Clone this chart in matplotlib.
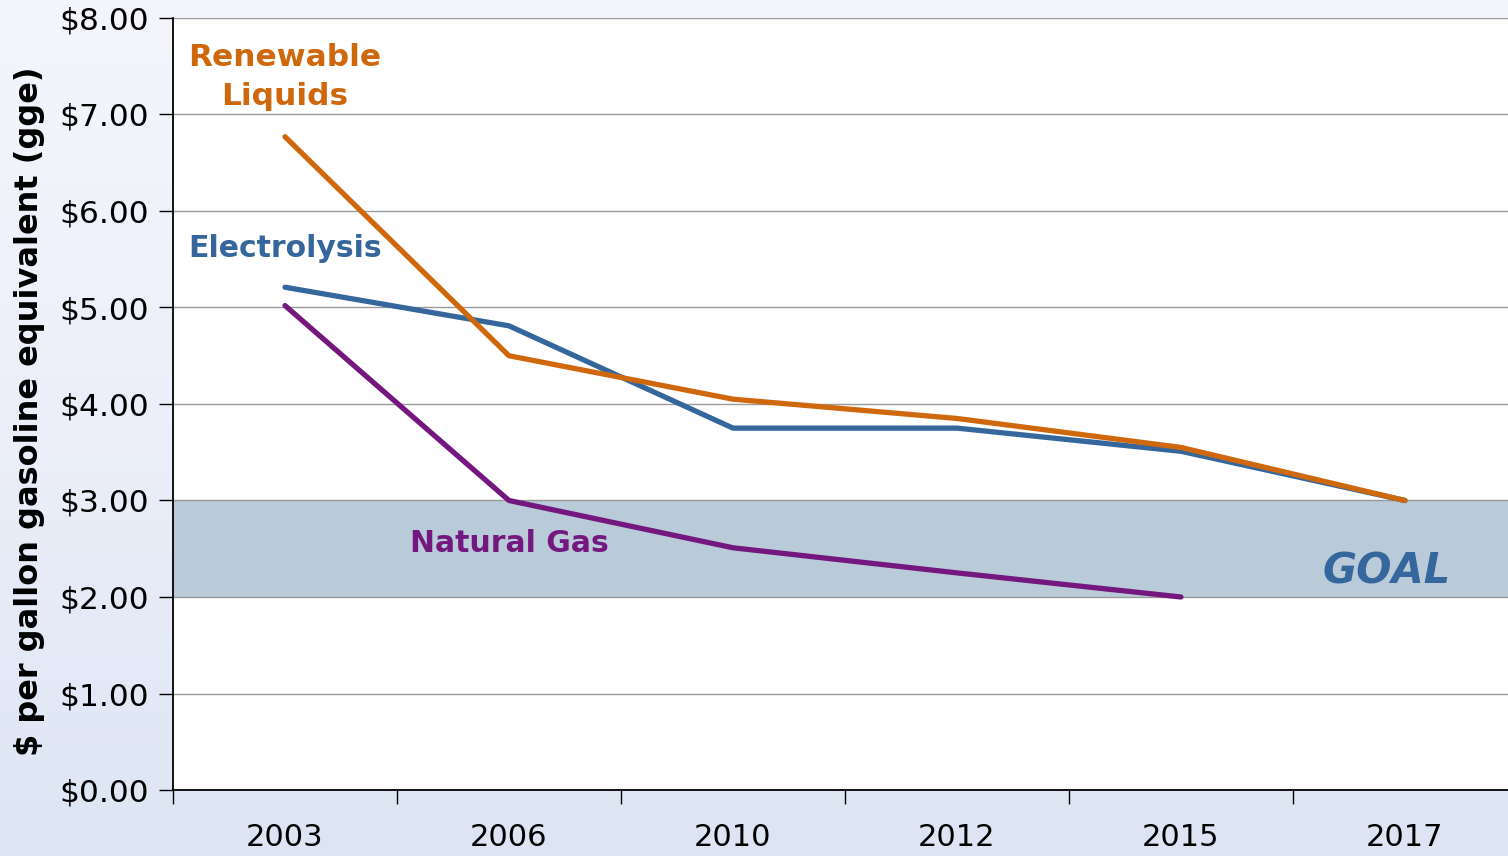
import matplotlib
matplotlib.use("Agg")
import matplotlib.pyplot as plt
import numpy as np
from matplotlib.ticker import FuncFormatter, FixedLocator
from matplotlib.colors import LinearSegmentedColormap

years = ["2003", "2006", "2010", "2012", "2015", "2017"]
renewable = [6.77, 4.50, 4.05, 3.85, 3.55, 3.00]
electrolysis = [5.21, 4.81, 3.75, 3.75, 3.51, 3.00]
natural_gas = [5.02, 3.00, 2.51, 2.25, 2.00]
goal_low, goal_high = 2.0, 3.0
y_ticks = [0, 1, 2, 3, 4, 5, 6, 7, 8]

ORANGE = "#cf680c"
BLUE = "#35679c"
PURPLE = "#74187f"

fig = plt.figure(figsize=(15.08, 8.56), dpi=100, facecolor="#edf1f9")

# soft bluish background
bg = fig.add_axes([0, 0, 1, 1], zorder=-10)
cmap = LinearSegmentedColormap.from_list("bg", ["#f4f6fc", "#eceff9", "#dde5f4"])
bg.imshow(np.linspace(0, 1, 256).reshape(-1, 1), aspect="auto", cmap=cmap,
          extent=[0, 1, 0, 1], origin="upper")
bg.axis("off")

ax = fig.add_axes([173/1508, 66/856, (1508-173)/1508, (790-18)/856])
ax.set_facecolor("white")

x = list(range(len(years)))
ax.axhspan(goal_low, goal_high, color="#b9cad9", zorder=0.4, lw=0)
ax.axhline(goal_low - 0.03, color="white", ls=(0, (3, 2.5)), lw=1.8, zorder=0.7)

ax.set_axisbelow(True)
ax.yaxis.grid(True, color="#9a9a9a", lw=1.0)

ax.plot(x, electrolysis, color=BLUE, lw=3.8, solid_capstyle="round", solid_joinstyle="round", zorder=2)
ax.plot(x, renewable, color=ORANGE, lw=3.8, solid_capstyle="round", solid_joinstyle="round", zorder=3)
ax.plot(x[:len(natural_gas)], natural_gas, color=PURPLE, lw=3.8, solid_capstyle="round", solid_joinstyle="round", zorder=3)

ax.set_xlim(-0.5, 5.46)
ax.set_ylim(0, 8)
ax.set_yticks(y_ticks)
ax.yaxis.set_major_formatter(FuncFormatter(lambda v, p: f"${v:.2f}"))
ax.set_xticks(x)
ax.set_xticklabels(years)
ax.xaxis.set_minor_locator(FixedLocator([i - 0.5 for i in range(len(years) + 1)]))
ax.tick_params(axis="x", which="major", length=0, pad=24, labelsize=22)
ax.tick_params(axis="x", which="minor", length=10, width=1, direction="out")
ax.tick_params(axis="y", which="major", length=10, width=1, pad=7, labelsize=22.5)

for s in ["top", "right"]:
    ax.spines[s].set_visible(False)
for s in ["left", "bottom"]:
    ax.spines[s].set_linewidth(1.3)

ax.set_ylabel("$ per gallon gasoline equivalent (gge)", fontsize=23, fontweight="bold")
ax.yaxis.set_label_coords(-0.096, 0.49)

ax.text(0, 7.39, "Renewable\nLiquids", color=ORANGE, fontsize=22.5, fontweight="bold",
        ha="center", va="center", linespacing=1.45)
ax.text(0, 5.61, "Electrolysis", color=BLUE, fontsize=21.5, fontweight="bold", ha="center", va="center")
ax.text(1, 2.55, "Natural Gas", color=PURPLE, fontsize=21.5, fontweight="bold", ha="center", va="center")
ax.text(4.92, 2.26, "GOAL", color=BLUE, fontsize=30, fontweight="bold", fontstyle="italic",
        ha="center", va="center")

fig.savefig("out.png", dpi=100, facecolor=fig.get_facecolor())
